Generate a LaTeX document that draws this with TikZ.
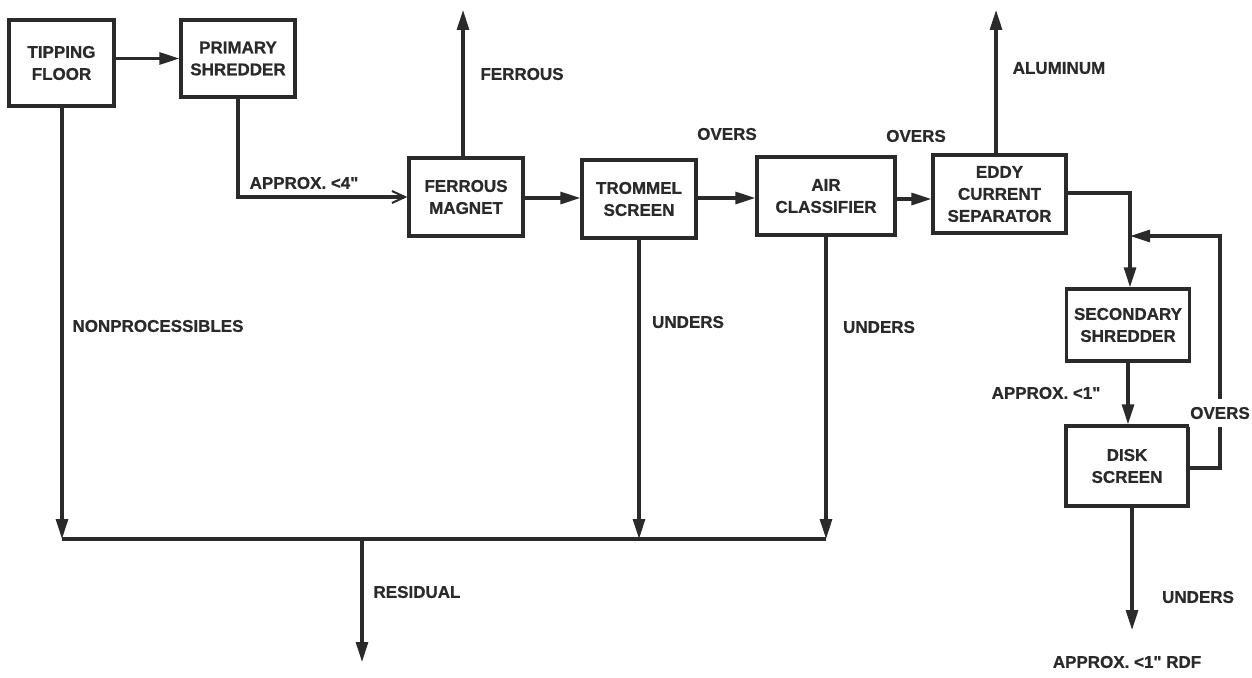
\documentclass[tikz,border=0pt]{standalone}
\usepackage{fontspec}
\setmainfont[FakeBold=0.8,Mapping=]{Liberation Sans}
\usetikzlibrary{arrows.meta}
\definecolor{ink}{HTML}{2A2A2A}
\tikzset{
  txt/.style={text=ink, font=\fontsize{17}{22}\selectfont\bfseries},
  box/.style={draw=ink, line width=3.4pt, minimum width=#1, align=center, inner sep=0pt, txt},
  conn/.style={draw=ink, line width=3.1pt},
  arr/.style={conn, -{Triangle[length=20pt,width=12pt]}},
  barb/.style={conn, -{Straight Barb[length=13pt,width=12pt,line width=2pt]}},
  lbl/.style={txt, inner sep=1pt}
}
\begin{document}
\begin{tikzpicture}[x=1pt,y=-1pt]
\path[use as bounding box] (0,0) rectangle (1252,677);
% boxes
\node[box=105pt, minimum height=86pt] (tip)  at (61.5,63)  {TIPPING\\FLOOR};
\node[box=114pt, minimum height=77pt] (prim) at (238,58.5) {PRIMARY\\SHREDDER};
\node[box=114pt, minimum height=78pt] (ferr) at (466,197)  {FERROUS\\MAGNET};
\node[box=114pt, minimum height=78pt] (trom) at (639,199)  {TROMMEL\\SCREEN};
\node[box=138pt, minimum height=78pt] (air)  at (826,196)  {AIR\\CLASSIFIER};
\node[box=133pt, minimum height=78pt] (eddy) at (999.5,194) {EDDY\\CURRENT\\SEPARATOR};
\node[box=123pt, minimum height=72pt] (sec)  at (1128,325) {SECONDARY\\SHREDDER};
\node[box=122pt, minimum height=80pt] (disk) at (1127,466) {DISK\\SCREEN};
% free ends
\coordinate (fe)  at (463,10);
\coordinate (al)  at (996,10);
\coordinate (j)   at (1130,236);
\coordinate (fb)  at (1220,236);
\coordinate (rdf) at (1132,630);
\coordinate (busL) at (62,539);
\coordinate (busR) at (826,539);
\coordinate (res) at (362,539);
\coordinate (resE) at (362,662);
% connectors
\draw[arr] (tip.east |- prim.west) -- (prim.west);
\draw[barb] (prim.south) |- (ferr.west);
\draw[arr] (ferr.north -| fe) -- (fe);
\draw[arr] (ferr.east |- 0,198) -- (trom.west |- 0,198);
\draw[arr] (trom.east |- 0,198) -- (air.west |- 0,198);
\draw[arr] (air.east |- 0,199) -- (eddy.west |- 0,199);
\draw[arr] (eddy.north -| al) -- (al);
\draw[arr] (eddy.east |- 0,193) -| (sec.north -| j);
\draw[arr] (sec.south) -- (disk.north -| sec.south);
\draw[arr] (disk.east |- 0,468) -| (fb) -- (j);
\draw[arr] (disk.south -| rdf) -- (rdf);
\draw[arr] (tip.south -| busL) -- (busL);
\draw[conn] (busL) -- (busR);
\draw[arr] (trom.south) -- (trom.south |- busL);
\draw[arr] (air.south) -- (busR);
\draw[arr] (res) -- (resE);
% labels
\node[lbl] (l1) at (304,183) {APPROX. <4"};
\node[lbl] (l2) at (522,74) {FERROUS};
\node[lbl] (l3) at (727,134) {OVERS};
\node[lbl] (l4) at (916,136) {OVERS};
\node[lbl] (l5) at (1059,68) {ALUMINUM};
\node[lbl] (l6) at (158,326) {NONPROCESSIBLES};
\node[lbl] (l7) at (688,322) {UNDERS};
\node[lbl] (l8) at (879,327) {UNDERS};
\node[lbl] (l9) at (1046,393) {APPROX. <1"};
\node[lbl, fill=white, inner ysep=8pt] (l10) at (1220,413) {OVERS};
\node[lbl] (l11) at (1198,597) {UNDERS};
\node[lbl] (l12) at (1127,662) {APPROX. <1" RDF};
\node[lbl] (l13) at (417,592) {RESIDUAL};
\end{tikzpicture}
\end{document}
